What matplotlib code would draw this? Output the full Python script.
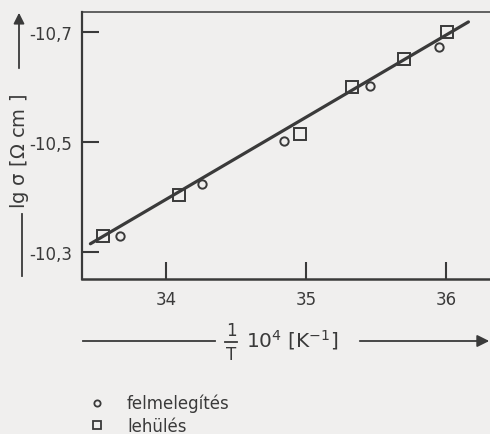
import numpy as np
import matplotlib.pyplot as plt
from matplotlib.patches import FancyArrowPatch
from matplotlib.lines import Line2D

# lehülés (squares) and felmelegítés (circles), x = 10^4/T, y = lg sigma
cool_x = [33.55, 34.09, 34.96, 35.33, 35.70, 36.01]
cool_y = [-10.329, -10.404, -10.515, -10.600, -10.651, -10.700]
heat_x = [33.67, 34.26, 34.84, 35.46, 35.95]
heat_y = [-10.329, -10.424, -10.502, -10.602, -10.673]
# fitted straight line, two end points
fit_x = [33.46, 36.16]
fit_y = [-10.315, -10.718]

x_ticks = [34, 35, 36]
x_labels = ['34', '35', '36']
y_ticks = [-10.3, -10.5, -10.7]
y_labels = ['-10,3', '-10,5', '-10,7']

ink = '#3a3a3a'
paper = '#f0efee'
W, H = 490, 435

plt.rcParams['font.family'] = 'DejaVu Sans'
plt.rcParams['mathtext.fontset'] = 'dejavusans'
plt.rcParams['mathtext.default'] = 'regular'

fig = plt.figure(figsize=(4.9, 4.35), dpi=100, facecolor=paper)


def fx(px):
    return px / W


def fy(py):
    return 1 - py / H


ax = fig.add_axes([fx(82), fy(280), fx(490) - fx(82), fy(13) - fy(280)])
ax.set_facecolor(paper)
ax.set_xlim(33.4, 36.314)
ax.set_ylim(-10.251, -10.736)

ax.plot(fit_x, fit_y, color=ink, lw=2.3, solid_capstyle='round', zorder=2)
ax.plot(cool_x, cool_y, 's', ms=8, mfc='none', mec=ink, mew=1.4, zorder=3)
ax.plot(heat_x, heat_y, 'o', ms=6, mfc='none', mec=ink, mew=1.4, zorder=3)

ax.set_xticks(x_ticks, x_labels)
ax.set_yticks(y_ticks, y_labels)
ax.tick_params(direction='in', length=12, width=1.5, color=ink,
               labelcolor=ink, labelsize=12)
ax.tick_params(axis='x', pad=8)
ax.tick_params(axis='y', pad=7)

ax.spines['right'].set_visible(False)
ax.spines['left'].set_linewidth(1.6)
ax.spines['bottom'].set_linewidth(1.8)
ax.spines['top'].set_linewidth(1.1)
for s in ('left', 'bottom', 'top'):
    ax.spines[s].set_color(ink)

# y axis caption with arrow
fig.text(fx(20), fy(151), r'lg $\sigma$ [$\Omega$ cm ]', rotation=90,
         ha='center', va='center', fontsize=14, color=ink)
fig.add_artist(FancyArrowPatch((fx(19), fy(72)), (fx(19), fy(11)),
                               transform=fig.transFigure, arrowstyle='-|>',
                               mutation_scale=16, color=ink, lw=1.3))
fig.add_artist(Line2D([fx(22), fx(22)], [fy(215), fy(277)],
                      transform=fig.transFigure, color=ink, lw=1.3))

# x axis caption: 1/T as a stacked fraction, then the unit, then the arrow
fig.text(fx(231), fy(331), '1', ha='center', va='center', fontsize=12, color=ink)
fig.text(fx(231), fy(355), 'T', ha='center', va='center', fontsize=12, color=ink)
fig.add_artist(Line2D([fx(225), fx(237)], [fy(343), fy(343)],
                      transform=fig.transFigure, color=ink, lw=1.3))
fig.text(fx(246), fy(340), r'10$^4$ [K$^{-1}$]',
         ha='left', va='center', fontsize=14.5, color=ink)
fig.add_artist(Line2D([fx(83), fx(215)], [fy(342), fy(342)],
                      transform=fig.transFigure, color=ink, lw=1.3))
fig.add_artist(FancyArrowPatch((fx(357), fy(342)), (fx(492), fy(342)),
                               transform=fig.transFigure, arrowstyle='-|>',
                               mutation_scale=18, color=ink, lw=1.3))

# legend
handles = [Line2D([], [], ls='none', marker='o', ms=4.5, mfc='none', mec=ink, mew=1.3),
           Line2D([], [], ls='none', marker='s', ms=6, mfc='none', mec=ink, mew=1.3)]
fig.legend(handles, ['felmelegítés', 'lehülés'], loc='upper left',
           bbox_to_anchor=(fx(87), fy(395)), frameon=False, fontsize=12,
           labelcolor=ink, handlelength=1.2, handletextpad=1.2,
           labelspacing=0.25, borderpad=0, borderaxespad=0)

fig.savefig('out.png', dpi=100, facecolor=paper)
